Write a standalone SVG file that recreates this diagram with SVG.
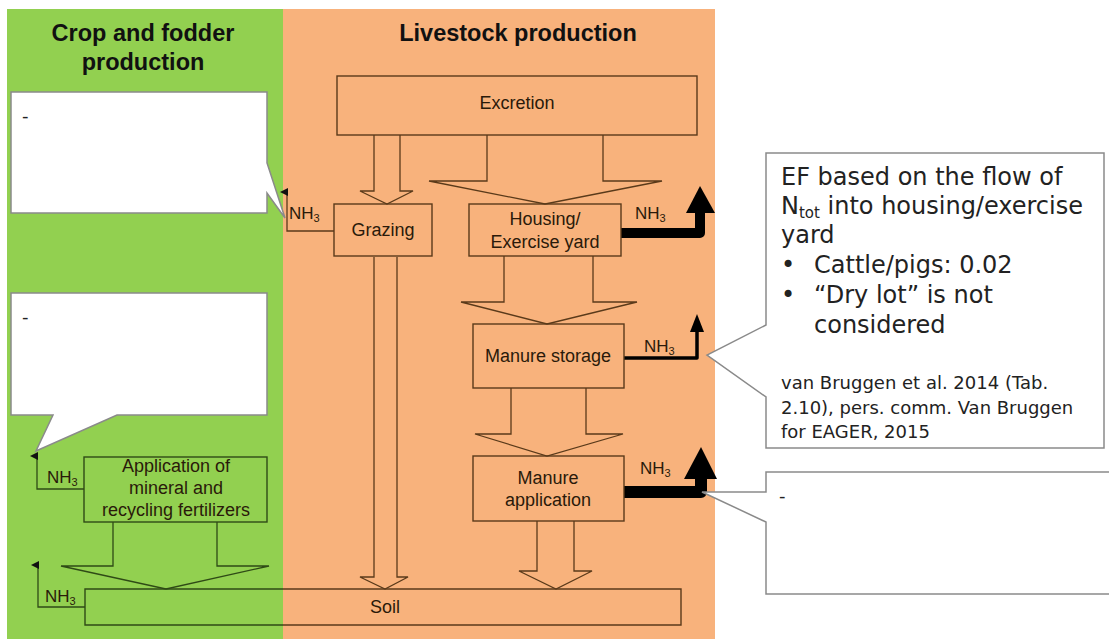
<svg xmlns="http://www.w3.org/2000/svg" width="1109" height="639" viewBox="0 0 1109 639">
<style>
.lbl{font-family:"Liberation Sans",Arial,sans-serif;font-size:18px;fill:#2a1a0a;text-anchor:middle}
.hdr{font-family:"Liberation Sans",Arial,sans-serif;font-size:23.5px;font-weight:bold;fill:#111;text-anchor:middle}
.nh{font-family:"Liberation Sans",Arial,sans-serif;font-size:17px;fill:#2a1a0a}
.box{fill:none;stroke:#5a3a1a;stroke-width:1.4}
.gbox{fill:none;stroke:#2f4a16;stroke-width:1.4}
.arr{fill:none;stroke:#5a3a1a;stroke-width:1.3}
.garr{fill:none;stroke:#2f4a16;stroke-width:1.3}
.call{fill:#fff;stroke:#8a8a8a;stroke-width:1.5}
.ct{font-family:"DejaVu Sans",Verdana,sans-serif;fill:#222}
</style>
<defs>
<marker id="ah" markerWidth="8" markerHeight="8" refX="4" refY="7" orient="auto-start-reverse" markerUnits="userSpaceOnUse" viewBox="0 0 8 8">
<path d="M0,8 L4,0 L8,8 Z" fill="#111"/>
</marker>
</defs>
<rect width="1109" height="639" fill="#fff"/>
<rect x="7" y="9" width="276" height="630" fill="#92d050"/>
<rect x="283" y="9" width="432" height="630" fill="#f8b27c"/>
<text class="hdr" x="143" y="41">Crop and fodder</text>
<text class="hdr" x="143" y="70">production</text>
<text class="hdr" x="518" y="41">Livestock production</text>

<g id="connectors">
<path class="arr" d="M374,135 V191 H360 L387,204 L413,191 H400 V135"/>
<path class="arr" d="M487,135 V181 H429 L545,204 L662,181 H603 V135"/>
<path class="arr" d="M504,256 V302 H461 L547,324 L637,302 H593 V256"/>
<path class="arr" d="M511,388 V434 H475 L547,456 L623,434 H586 V388"/>
<path class="arr" d="M374,257 V577 H360 L385,589 L408,577 H397 V257"/>
<path class="arr" d="M537,521 V571 H519 L556,589 L592,571 H574 V521"/>
<path class="garr" d="M113,522 V566 H61 L166,589 L269,566 H217 V522"/>
<path d="M334,231 H287 V192" fill="none" stroke="#5a3a1a" stroke-width="1.3" marker-end="url(#ah)"/>
<path d="M84,489 H37 V456" fill="none" stroke="#2f4a16" stroke-width="1.3" marker-end="url(#ah)"/>
<path d="M85,607 H38 V565" fill="none" stroke="#2f4a16" stroke-width="1.3" marker-end="url(#ah)"/>
<path d="M621,233 H700 V210" fill="none" stroke="#000" stroke-width="10" stroke-linejoin="round"/>
<path d="M686,213 L700,186 L715,213 Z" fill="#000"/>
<path d="M624,358 H697 V330" fill="none" stroke="#000" stroke-width="3.5" stroke-linejoin="round"/>
<path d="M690,332 L697,314 L704,332 Z" fill="#000"/>
<path d="M624,492 H701 V476" fill="none" stroke="#000" stroke-width="12" stroke-linejoin="round"/>
<path d="M684,479 L701,447 L717,479 Z" fill="#000"/>
</g>

<g id="nh3-labels">
<text class="nh" x="289" y="219">NH<tspan font-size="11" dy="3">3</tspan></text>
<text class="nh" x="635" y="219">NH<tspan font-size="11" dy="3">3</tspan></text>
<text class="nh" x="644" y="352">NH<tspan font-size="11" dy="3">3</tspan></text>
<text class="nh" x="640" y="474">NH<tspan font-size="11" dy="3">3</tspan></text>
<text class="nh" x="47" y="483">NH<tspan font-size="11" dy="3">3</tspan></text>
<text class="nh" x="45" y="602">NH<tspan font-size="11" dy="3">3</tspan></text>
</g>

<g id="excretion">
<rect class="box" x="337" y="76" width="360" height="59"/>
<text class="lbl" x="517" y="109">Excretion</text>
</g>
<g id="grazing">
<rect class="box" x="334" y="204" width="98" height="52"/>
<text class="lbl" x="383" y="236">Grazing</text>
</g>
<g id="housing">
<rect class="box" x="469" y="204" width="152" height="52"/>
<text class="lbl" x="545" y="225">Housing/</text>
<text class="lbl" x="545" y="248">Exercise yard</text>
</g>
<g id="manure-storage">
<rect class="box" x="473" y="324" width="151" height="64"/>
<text class="lbl" x="548" y="362">Manure storage</text>
</g>
<g id="manure-application">
<rect class="box" x="473" y="456" width="151" height="65"/>
<text class="lbl" x="548" y="484">Manure</text>
<text class="lbl" x="548" y="506">application</text>
</g>
<g id="application-fertilizers">
<rect class="gbox" x="84" y="457" width="183" height="65"/>
<text class="lbl" x="176" y="472">Application of</text>
<text class="lbl" x="176" y="494">mineral and</text>
<text class="lbl" x="176" y="516">recycling fertilizers</text>
</g>
<g id="soil">
<path d="M283,589 H85 V625 H283" fill="none" stroke="#2f4a16" stroke-width="1.4"/>
<path class="box" d="M283,589 H681 V625 H283"/>
<text class="lbl" x="385" y="613">Soil</text>
</g>

<g id="callout-grazing">
<path class="call" d="M11,92 H267 V163 L285,218 L267,193 V213 H11 Z"/>
<text class="ct" x="22" y="122" font-size="18">-</text>
</g>
<g id="callout-fertilizers">
<path class="call" d="M11,293 H267 V415 H117 L36,451 L53,415 H11 Z"/>
<text class="ct" x="22" y="323" font-size="18">-</text>
</g>
<g id="callout-housing">
<path class="call" d="M766,153 H1104 V448 H766 V397 L707,355 L766,325 Z"/>
<text class="ct" x="781" y="185" font-size="24">EF based on the flow of</text>
<text class="ct" x="781" y="214" font-size="24">N<tspan font-size="15" dy="4">tot</tspan><tspan dy="-4"> into housing/exercise</tspan></text>
<text class="ct" x="781" y="243" font-size="24">yard</text>
<text class="ct" x="781" y="273" font-size="24">•</text>
<text class="ct" x="814" y="273" font-size="24">Cattle/pigs: 0.02</text>
<text class="ct" x="781" y="303" font-size="24">•</text>
<text class="ct" x="814" y="303" font-size="24">“Dry lot” is not</text>
<text class="ct" x="814" y="333" font-size="24">considered</text>
<text class="ct" x="781" y="389" font-size="18">van Bruggen et al. 2014 (Tab.</text>
<text class="ct" x="781" y="414" font-size="18">2.10), pers. comm. Van Bruggen</text>
<text class="ct" x="781" y="438" font-size="18">for EAGER, 2015</text>
</g>
<g id="callout-application">
<path class="call" d="M766,472 H1110 V594 H766 V522 L702,492 H766 Z"/>
<text class="ct" x="779" y="502" font-size="18">-</text>
</g>
</svg>
